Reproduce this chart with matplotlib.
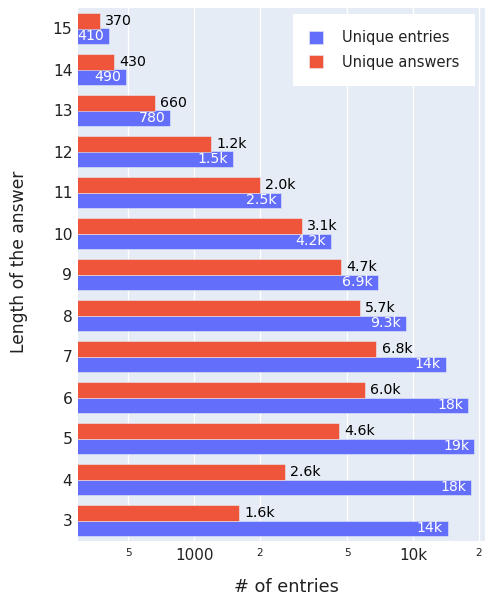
import matplotlib.pyplot as plt
import numpy as np

lengths = [3, 4, 5, 6, 7, 8, 9, 10, 11, 12, 13, 14, 15]
unique_entries = [14400, 18400, 19000, 17900, 14100, 9300, 6900, 4200, 2500, 1500, 780, 490, 410]
unique_answers = [1610, 2600, 4600, 6000, 6800, 5700, 4700, 3100, 2000, 1200, 660, 430, 370]
entries_labels = ["14k", "18k", "19k", "18k", "14k", "9.3k", "6.9k", "4.2k", "2.5k", "1.5k", "780", "490", "410"]
answers_labels = ["1.6k", "2.6k", "4.6k", "6.0k", "6.8k", "5.7k", "4.7k", "3.1k", "2.0k", "1.2k", "660", "430", "370"]

tick_vals = [500, 1000, 2000, 5000, 10000, 20000]
tick_text = ["5", "1000", "2", "5", "10k", "2"]

BLUE = "#636EFA"
RED = "#EF553B"
BG = "#E5ECF6"

fig = plt.figure(figsize=(4.86, 5.97), dpi=100)
ax = fig.add_axes([78 / 486, 56 / 597, 407 / 486, 533 / 597])
ax.set_facecolor(BG)

y = np.arange(len(lengths))
h = 0.38
ax.barh(y - h / 2, unique_entries, height=h, color=BLUE, edgecolor=BG,
        linewidth=0.4, label="Unique entries", zorder=2)
ax.barh(y + h / 2, unique_answers, height=h, color=RED, edgecolor=BG,
        linewidth=0.4, label="Unique answers", zorder=2)

ax.set_xscale("log")
ax.set_xlim(295, 21300)
ax.set_ylim(-0.5, len(lengths) - 0.5)

# labels: white inside blue bars, black outside red bars
for yi, v, t in zip(y, unique_entries, entries_labels):
    ax.annotate(t, (v, yi - h / 2), xytext=(-3.5, 0), textcoords="offset points",
                color="white", fontsize=10.2, ha="right", va="center", zorder=3)
for yi, v, t in zip(y, unique_answers, answers_labels):
    ax.annotate(t, (v, yi + h / 2), xytext=(3.8, 0), textcoords="offset points",
                color="black", fontsize=10.2, ha="left", va="center", zorder=3)

ax.set_xticks(tick_vals)
ax.set_xticklabels(tick_text)
ax.xaxis.set_minor_locator(plt.NullLocator())
for lab, t in zip(ax.get_xticklabels(), tick_text):
    lab.set_fontsize(11 if len(t) > 1 else 7.6)
    lab.set_verticalalignment("top")
ax.tick_params(axis="x", length=0, pad=5, colors="#222222")

ax.set_yticks(y)
ax.set_yticklabels([str(l) for l in lengths], fontsize=11.2)
ax.tick_params(axis="y", length=0, pad=4, colors="#222222")

ax.grid(axis="x", color="white", linewidth=1, zorder=1)
ax.set_axisbelow(True)
for s in ax.spines.values():
    s.set_visible(False)

ax.set_xlabel("# of entries", fontsize=12.8, color="#222222", va="top")
ax.xaxis.set_label_coords(0.512, -0.069)
ax.set_ylabel("Length of the answer", fontsize=12.3, color="#222222")
ax.yaxis.set_label_coords(-0.123, 0.523)

leg = ax.legend(loc="upper right", bbox_to_anchor=(475 / 486, 1 - 14 / 597),
                bbox_transform=fig.transFigure, borderaxespad=0, fontsize=10.5,
                frameon=True, fancybox=False, borderpad=1.1, handlelength=1.0,
                handleheight=1.0, handletextpad=1.25, labelspacing=0.65)
leg.get_frame().set_edgecolor("white")
leg.get_frame().set_linewidth(0)
leg.get_frame().set_alpha(1)
for t in leg.get_texts():
    t.set_color("#222222")

fig.savefig("out.png", dpi=100)
